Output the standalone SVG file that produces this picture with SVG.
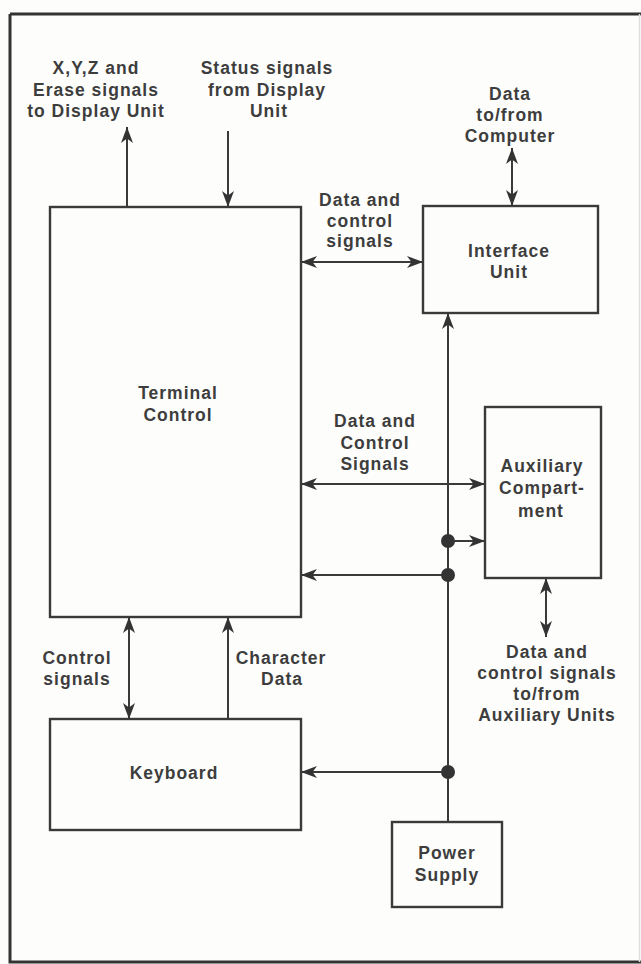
<svg xmlns="http://www.w3.org/2000/svg" width="641" height="964" viewBox="0 0 641 964">
<style>
  .bg{fill:#fdfdfc}
  .box{fill:none;stroke:#3a3a3a;stroke-width:2.4}
  .ln{fill:none;stroke:#3a3a3a;stroke-width:2}
  .t{font-family:"Liberation Sans",Arial,sans-serif;font-weight:bold;font-size:17.5px;letter-spacing:1px;fill:#3d3d3d;text-anchor:middle}
  .dot{fill:#333}
</style>
<defs>
  <marker id="ah" markerUnits="userSpaceOnUse" markerWidth="17" markerHeight="12" refX="16" refY="6" orient="auto-start-reverse">
    <path d="M0,0 L16,6 L0,12 L4.5,6 z" fill="#333"/>
  </marker>
</defs>
<rect class="bg" x="0" y="0" width="641" height="964"/>
<g id="frame">
  <path d="M10,14 H641 M10,14 V962 H641" fill="none" stroke="#333" stroke-width="3"/>
  <path d="M639.5,14 V962" fill="none" stroke="#e0e0e0" stroke-width="1.5"/>
</g>
<g id="connectors">
  <path class="ln" d="M127,207 V127" marker-end="url(#ah)"/>
  <path class="ln" d="M228,131 V207" marker-end="url(#ah)"/>
  <path class="ln" d="M512,148 V206" marker-start="url(#ah)" marker-end="url(#ah)"/>
  <path class="ln" d="M301,262 H423" marker-start="url(#ah)" marker-end="url(#ah)"/>
  <path class="ln" d="M448,822 V313" marker-end="url(#ah)"/>
  <path class="ln" d="M301,484 H485" marker-start="url(#ah)" marker-end="url(#ah)"/>
  <path class="ln" d="M448,541 H485" marker-end="url(#ah)"/>
  <path class="ln" d="M448,575 H301" marker-end="url(#ah)"/>
  <path class="ln" d="M546,578 V637" marker-start="url(#ah)" marker-end="url(#ah)"/>
  <path class="ln" d="M129,617 V719" marker-start="url(#ah)" marker-end="url(#ah)"/>
  <path class="ln" d="M228,719 V617" marker-end="url(#ah)"/>
  <path class="ln" d="M448,772 H301" marker-end="url(#ah)"/>
  <circle class="dot" cx="448" cy="541" r="7"/>
  <circle class="dot" cx="448" cy="575" r="7"/>
  <circle class="dot" cx="448" cy="772" r="7"/>
</g>
<g id="terminal-control">
  <rect class="box" x="50" y="207" width="251" height="410"/>
  <text class="t" x="178" y="399">Terminal</text>
  <text class="t" x="178" y="421">Control</text>
</g>
<g id="interface-unit">
  <rect class="box" x="423" y="206" width="175" height="107"/>
  <text class="t" x="509" y="257">Interface</text>
  <text class="t" x="509" y="278">Unit</text>
</g>
<g id="auxiliary-compartment">
  <rect class="box" x="485" y="407" width="116" height="171"/>
  <text class="t" x="542" y="472">Auxiliary</text>
  <text class="t" x="542" y="494">Compart-</text>
  <text class="t" x="541" y="517">ment</text>
</g>
<g id="keyboard">
  <rect class="box" x="50" y="719" width="251" height="111"/>
  <text class="t" x="174" y="779">Keyboard</text>
</g>
<g id="power-supply">
  <rect class="box" x="392" y="822" width="110" height="85"/>
  <text class="t" x="447" y="859">Power</text>
  <text class="t" x="447" y="881">Supply</text>
</g>
<g id="labels">
  <text class="t" x="96" y="74">X,Y,Z and</text>
  <text class="t" x="96" y="96">Erase signals</text>
  <text class="t" x="96" y="117">to Display Unit</text>
  <text class="t" x="267" y="74">Status signals</text>
  <text class="t" x="267" y="96">from Display</text>
  <text class="t" x="269" y="117">Unit</text>
  <text class="t" x="510" y="100">Data</text>
  <text class="t" x="510" y="121">to/from</text>
  <text class="t" x="510" y="142">Computer</text>
  <text class="t" x="360" y="206">Data and</text>
  <text class="t" x="360" y="227">control</text>
  <text class="t" x="360" y="247">signals</text>
  <text class="t" x="375" y="427">Data and</text>
  <text class="t" x="375" y="449">Control</text>
  <text class="t" x="375" y="470">Signals</text>
  <text class="t" x="547" y="658">Data and</text>
  <text class="t" x="547" y="679">control signals</text>
  <text class="t" x="547" y="700">to/from</text>
  <text class="t" x="547" y="721">Auxiliary Units</text>
  <text class="t" x="77" y="664">Control</text>
  <text class="t" x="77" y="685">signals</text>
  <text class="t" x="281" y="664">Character</text>
  <text class="t" x="282" y="685">Data</text>
</g>
</svg>
